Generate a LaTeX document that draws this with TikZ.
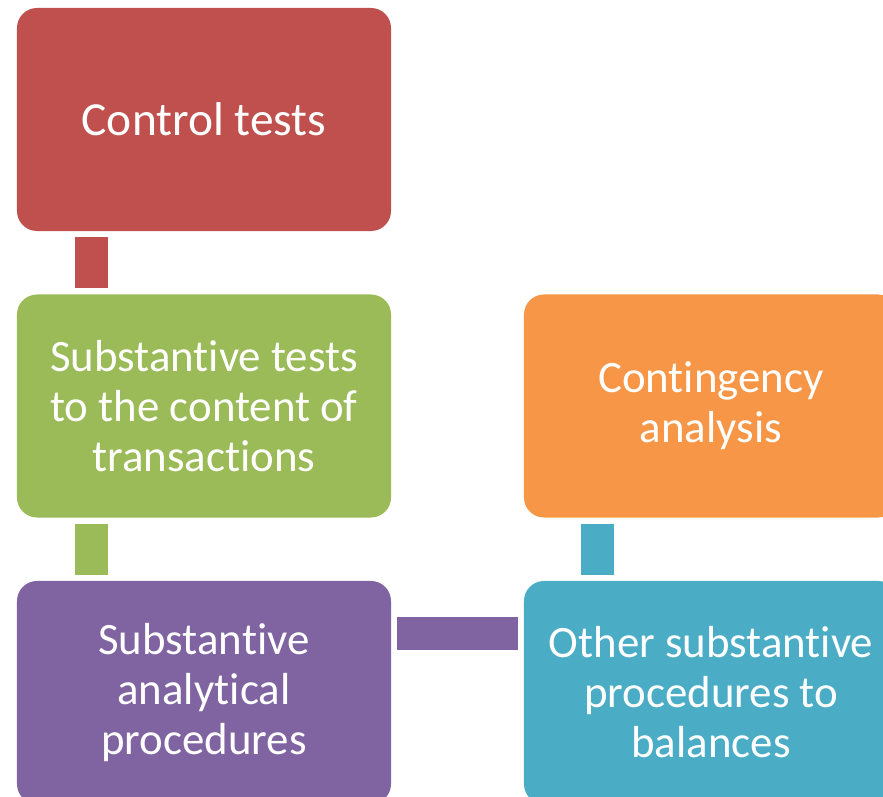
\documentclass[tikz,border=0pt]{standalone}
\usepackage{fontspec}
\setmainfont{Carlito}[Ligatures=NoCommon]
\usetikzlibrary{positioning,calc}

\definecolor{ctrlred}{HTML}{C0504D}
\definecolor{substgreen}{HTML}{9BBB59}
\definecolor{analytpurple}{HTML}{8064A2}
\definecolor{contorange}{HTML}{F79646}
\definecolor{otherteal}{HTML}{4BACC6}

\tikzset{
  stepbox/.style={rectangle, rounded corners=0.6cm, fill=#1, draw=none,
    minimum width=11.22cm, minimum height=6.69cm, inner sep=0pt, outer sep=0pt,
    text=white, align=center, font=\fontsize{38.3}{42.7}\selectfont},
  linkbar/.style={draw=#1, line width=0.99cm, shorten <=0.18cm, shorten >=0.18cm}
}

\begin{document}
\begin{tikzpicture}[x=0.03cm, y=-0.03cm]
        % Rahmen
        \clip (0,0) rectangle (883,797);
        \useasboundingbox (0,0) rectangle (883,797);

        % Linke Spalte
        \node[stepbox=ctrlred, font=\fontsize{40.5}{42.7}\selectfont] (ctrl) at (204,119.5) {Control tests};
        \node[stepbox=substgreen] (subst) at (204,406) {Substantive tests\\to the content of\\transactions};
        \node[stepbox=analytpurple] (analyt) at (204,692.5) {Substantive\\analytical\\procedures};

        % Rechte Spalte
        \node[stepbox=contorange] (conting) at (711,406) {Contingency\\analysis};
        \node[stepbox=otherteal] (other) at (711,692.5) {Other substantive\\procedures to\\balances};

        % Verbindungen
        \draw[linkbar=ctrlred] ($(ctrl.south west)+(74.5,0)$) -- ($(subst.north west)+(74.5,0)$);
        \draw[linkbar=substgreen] ($(subst.south west)+(74.5,0)$) -- ($(analyt.north west)+(74.5,0)$);
        \draw[linkbar=analytpurple] ($(analyt.east)+(0,-59)$) -- ($(other.west)+(0,-59)$);
        \draw[linkbar=otherteal] ($(other.north west)+(73.5,0)$) -- ($(conting.south west)+(73.5,0)$);
    \end{tikzpicture}
\end{document}
